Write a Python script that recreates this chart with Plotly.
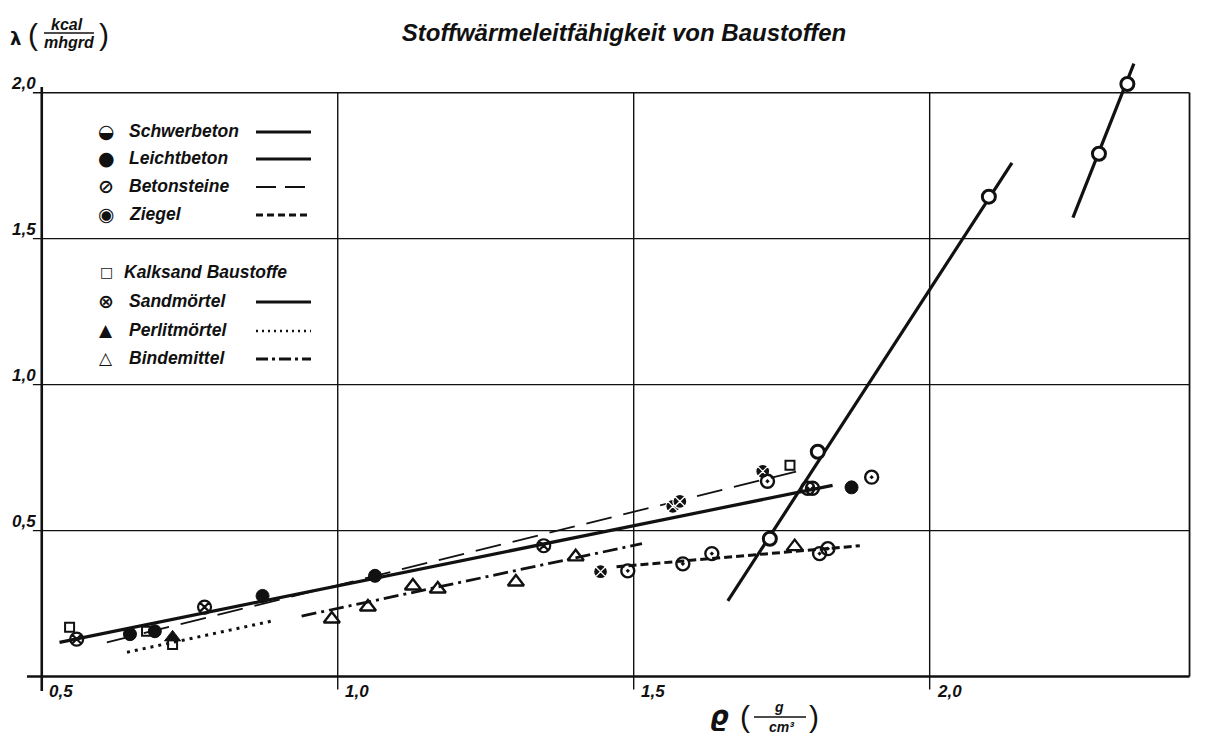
import plotly.graph_objects as go

# ---------------- data ----------------
x_ticks = [0.5, 1.0, 1.5, 2.0]
x_tick_labels = ["0,5", "1,0", "1,5", "2,0"]
y_ticks = [0.5, 1.0, 1.5, 2.0]
y_tick_labels = ["0,5", "1,0", "1,5", "2,0"]

# Schwerbeton (two steep solid segments)
schwer_x = [1.730, 1.811, 2.100, 2.286, 2.334]
schwer_y = [0.472, 0.770, 1.644, 1.791, 2.030]
schwer_line_x = [1.659, 2.139, None, 2.242, 2.345]
schwer_line_y = [0.259, 1.760, None, 1.572, 2.100]

# Leichtbeton (long solid line)
leicht_x = [0.649, 0.691, 0.873, 1.063, 1.868]
leicht_y = [0.145, 0.155, 0.276, 0.345, 0.648]
leicht_line_x = [0.530, 1.836]
leicht_line_y = [0.117, 0.655]

# Betonsteine (long dashes)
beton_x = [1.444, 1.566, 1.578, 1.718]
beton_y = [0.359, 0.583, 0.600, 0.703]
beton_line_x = [0.610, 1.784]
beton_line_y = [0.117, 0.707]

# Ziegel (short dashes)
ziegel_x = [1.490, 1.583, 1.632, 1.726, 1.794, 1.802, 1.814, 1.828, 1.902]
ziegel_y = [0.362, 0.386, 0.421, 0.669, 0.645, 0.645, 0.421, 0.438, 0.683]
ziegel_line_x = [1.471, 1.882]
ziegel_line_y = [0.376, 0.448]

# Kalksand Baustoffe (points only)
kalk_x = [0.547, 0.677, 0.721, 1.764]
kalk_y = [0.169, 0.155, 0.110, 0.724]

# Sandmörtel (points on the solid line)
sand_x = [0.559, 0.775, 1.348]
sand_y = [0.128, 0.238, 0.448]

# Perlitmörtel (dotted)
perlit_x = [0.721]
perlit_y = [0.134]
perlit_line_x = [0.644, 0.889]
perlit_line_y = [0.083, 0.190]

# Bindemittel (dash-dot)
binde_x = [0.990, 1.051, 1.127, 1.169, 1.301, 1.402, 1.772]
binde_y = [0.197, 0.238, 0.310, 0.300, 0.324, 0.410, 0.445]
binde_line_x = [0.939, 1.514]
binde_line_y = [0.207, 0.455]

legend_names = ["Schwerbeton", "Leichtbeton", "Betonsteine", "Ziegel",
                "Kalksand Baustoffe", "Sandmörtel", "Perlitmörtel", "Bindemittel"]
legend_glyphs = ["◒", "●", "⊘", "◉", "□", "⊗", "▲", "△"]

# ---------------- layout geometry ----------------
OFF = 8                      # page body margin of the written html
W, H = 1211 - OFF, 737 - OFF
ML, MR, MT, MB = 16, 12, 41, 43
PW, PH = W - ML - MR, H - MT - MB
XR = [0.47, 2.455]
YR = [-0.06, 2.15]
XF = 2.439   # right frame position
INK = "#111111"
FONT = "Liberation Sans, Arial, sans-serif"


def pxx(px):
    return (px - OFF - ML) / PW


def pxy(py):
    return (H - MB - (py - OFF)) / PH


fig = go.Figure()


def add_line(xs, ys, width, dash):
    fig.add_trace(go.Scatter(x=xs, y=ys, mode="lines", showlegend=False,
                             line=dict(color=INK, width=width, dash=dash),
                             hoverinfo="skip"))


add_line(leicht_line_x, leicht_line_y, 3.2, "solid")
add_line(beton_line_x, beton_line_y, 1.8, "26px,12px")
add_line(ziegel_line_x, ziegel_line_y, 3.0, "8px,4px")
add_line(perlit_line_x, perlit_line_y, 3.0, "3px,5px")
add_line(binde_line_x, binde_line_y, 2.8, "15px,5px,3px,5px")
add_line(schwer_line_x, schwer_line_y, 3.2, "solid")


def add_pts(xs, ys, symbol, size, color, lcolor, lwidth):
    fig.add_trace(go.Scatter(x=xs, y=ys, mode="markers", showlegend=False,
                             cliponaxis=False,
                             marker=dict(symbol=symbol, size=size, color=color,
                                         line=dict(color=lcolor, width=lwidth))))


add_pts(leicht_x, leicht_y, "circle", 13, INK, INK, 1)
add_pts(beton_x, beton_y, "circle-x", 14, INK, "white", 1.3)
add_pts(ziegel_x, ziegel_y, "circle-open-dot", 13, INK, INK, 2.4)
add_pts(kalk_x, kalk_y, "square-open", 9, INK, INK, 2)
add_pts(sand_x, sand_y, "circle-x-open", 13, INK, INK, 2.2)
add_pts(perlit_x, perlit_y, "triangle-up", 14, INK, INK, 1)
add_pts(binde_x, binde_y, "triangle-up-open", 14, INK, INK, 2.4)
add_pts(schwer_x, schwer_y, "circle", 13, "white", INK, 3)

# ---------------- frame, grid and ticks ----------------
shapes = []


def seg(x0, y0, x1, y1, w, dash="solid"):
    shapes.append(dict(type="line", xref="x", yref="y", x0=x0, y0=y0, x1=x1, y1=y1,
                       line=dict(color=INK, width=w, dash=dash), layer="below"))


for v in y_ticks:
    seg(0.485, v, XF, v, 1.6 if v == y_ticks[-1] else 1.2)
for v in x_ticks[1:]:
    seg(v, -0.045, v, y_ticks[-1], 1.4)
seg(x_ticks[0], -0.05, x_ticks[0], 2.02, 2.6)        # y axis
seg(0.475, 0, XF, 0, 2.4)                            # x axis
seg(XF, 0, XF, y_ticks[-1], 1.8)                      # right frame

annotations = []


def txt(text, x, y, size, xanchor="center", yanchor="middle", xref="paper",
        yref="paper", xshift=0, yshift=0, family=FONT):
    annotations.append(dict(text=text, x=x, y=y, xref=xref, yref=yref,
                            xanchor=xanchor, yanchor=yanchor, showarrow=False,
                            xshift=xshift, yshift=yshift,
                            font=dict(family=family, size=size, color=INK)))


for v, t in zip(x_ticks, x_tick_labels):
    txt("<b><i>%s</i></b>" % t, v, 0, 17, "left", "top", "x", "y", 5, -4)
for v, t in zip(y_ticks, y_tick_labels):
    txt("<b><i>%s</i></b>" % t, x_ticks[0], v, 17, "right", "middle", "x", "y", -4, 9)

# ---------------- manual legend ----------------
legend_y = [131, 158, 186, 214, 272, 301, 330, 358]
legend_dash = ["solid", "solid", "20px,9px", "7px,4px", None, "solid", "2px,4px", "12px,4px,3px,4px"]
legend_w = [3.2, 3.0, 2.2, 3.0, 0, 3.0, 2.6, 2.8]
legend_gsize = [19, 19, 19, 19, 14, 19, 17, 17]
for name, g, py, d, lw, gs in zip(legend_names, legend_glyphs, legend_y, legend_dash,
                                  legend_w, legend_gsize):
    txt("<b>%s</b>" % g, pxx(106), pxy(py), gs, family="DejaVu Sans")
    tx = 127 if name != "Kalksand Baustoffe" else 122
    txt("<b><i>%s</i></b>" % name, pxx(tx), pxy(py), 17.5, "left")
    if d is not None:
        shapes.append(dict(type="line", xref="paper", yref="paper",
                           x0=pxx(256), x1=pxx(311), y0=pxy(py + 1), y1=pxy(py + 1),
                           line=dict(color=INK, width=lw, dash=d)))

# ---------------- axis titles ----------------
txt("<b>λ</b>", pxx(15), pxy(39), 18, family="DejaVu Sans")
txt("(", pxx(33), pxy(35), 30)
txt("<b><i>kcal</i></b>", pxx(67), pxy(25), 16)
txt("<b><i>mhgrd</i></b>", pxx(70), pxy(42), 16)
txt(")", pxx(104), pxy(35), 30)
shapes.append(dict(type="line", xref="paper", yref="paper", x0=pxx(44), x1=pxx(94),
                   y0=pxy(33), y1=pxy(33), line=dict(color=INK, width=1.6)))

txt("<b><i>ϱ</i></b>", pxx(719), pxy(716), 26, family="DejaVu Sans")
txt("(", pxx(745), pxy(716), 30)
txt("<b><i>g</i></b>", pxx(779), pxy(707), 14)
txt("<b><i>cm³</i></b>", pxx(781), pxy(727), 14)
txt(")", pxx(814), pxy(716), 30)
shapes.append(dict(type="line", xref="paper", yref="paper", x0=pxx(754), x1=pxx(806),
                   y0=pxy(717), y1=pxy(717), line=dict(color=INK, width=1.6)))

fig.update_layout(
    width=W, height=H, autosize=False,
    margin=dict(l=ML, r=MR, t=MT, b=MB, autoexpand=False),
    paper_bgcolor="white", plot_bgcolor="white",
    title=dict(text="<b><i>Stoffwärmeleitfähigkeit von Baustoffen</i></b>",
               x=(624 - OFF) / W, y=1 - (33 - OFF) / H, xref="container", yref="container",
               xanchor="center", yanchor="middle",
               font=dict(family=FONT, size=24, color=INK)),
    xaxis=dict(range=XR, visible=False, fixedrange=True),
    yaxis=dict(range=YR, visible=False, fixedrange=True),
    shapes=shapes, annotations=annotations,
    showlegend=False,
)

fig.write_html("out.html")
